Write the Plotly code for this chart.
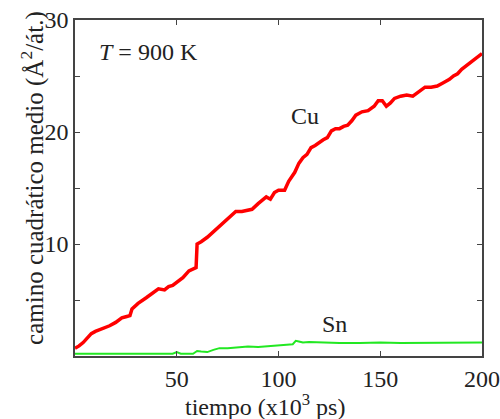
import plotly.graph_objects as go

cu_t = [0, 2, 4, 6, 8, 10, 13, 17, 20, 23, 25, 27, 28, 31, 35, 38, 41, 44, 46, 48, 50, 53, 56, 58, 59.5,
        60, 62, 65, 68, 71, 74, 77, 79, 82, 85, 87, 90, 92, 94, 96, 98, 100, 103, 105, 108, 110, 112,
        114, 116, 118, 120, 122, 124, 126, 128, 130, 132, 134, 136, 138, 141, 144, 147, 149, 151, 153,
        155, 157, 160, 163, 166, 168, 170, 172, 175, 178, 181, 184, 186, 188, 190, 192, 195, 197, 200]
cu_msd = [0.7, 0.9, 1.2, 1.6, 2.0, 2.2, 2.4, 2.7, 3.0, 3.4, 3.5, 3.6, 4.2, 4.7, 5.2, 5.6, 6.0, 5.9, 6.2,
          6.3, 6.6, 7.0, 7.6, 7.8, 7.9, 10.0, 10.2, 10.6, 11.1, 11.6, 12.0, 12.6, 12.9, 12.9, 13.0, 13.1,
          13.6, 13.9, 14.2, 14.0, 14.6, 14.8, 14.8, 15.6, 16.4, 17.2, 17.7, 18.0, 18.6, 18.8, 19.1, 19.3,
          19.5, 20.1, 20.3, 20.3, 20.5, 20.6, 21.0, 21.5, 21.8, 21.9, 22.3, 22.8, 22.8, 22.3, 22.6, 23.0,
          23.2, 23.3, 23.2, 23.5, 23.8, 24.0, 24.0, 24.1, 24.4, 24.7, 25.0, 25.2, 25.6, 25.9, 26.3, 26.6,
          27.0]

sn_t = [0, 10, 20, 30, 40, 48, 50, 52, 58, 60, 62, 65, 68, 71, 75, 80, 85, 90, 95, 100, 104, 107, 108.5,
        110, 112, 115, 120, 130, 140, 150, 160, 170, 180, 190, 200]
sn_msd = [0.2, 0.2, 0.25, 0.2, 0.25, 0.2, 0.35, 0.2, 0.2, 0.45, 0.4, 0.35, 0.55, 0.7, 0.7, 0.8, 0.85, 0.8,
          0.85, 0.9, 1.0, 1.05, 1.35, 1.3, 1.2, 1.25, 1.2, 1.15, 1.15, 1.2, 1.15, 1.15, 1.15, 1.15, 1.2]

y_ticks = [5, 10, 15, 20, 25, 30]
y_ticktext = ["", "10", "", "20", "", "30"]
x_ticks = [50, 100, 150, 200]
x_ticktext = ["50", "100", "150", "200"]

FONT = "Liberation Serif"
TXT = "#222222"
FS = 24

fig = go.Figure()
fig.add_trace(go.Scatter(x=cu_t, y=cu_msd, mode="lines", line=dict(color="#ff0000", width=3.5),
                         showlegend=False, name="Cu"))
fig.add_trace(go.Scatter(x=sn_t, y=sn_msd, mode="lines", line=dict(color="#22e822", width=2),
                         showlegend=False, name="Sn"))

axis_common = dict(showgrid=False, zeroline=False, showline=True, linecolor="#444444", linewidth=1.5,
                   mirror="ticks", ticks="inside", ticklen=5, tickcolor="#444444", tickwidth=1,
                   automargin=False, tickfont=dict(family=FONT, size=FS, color=TXT))

fig.update_xaxes(range=[0, 200], tickvals=x_ticks, ticktext=x_ticktext, **axis_common)
fig.update_yaxes(range=[0, 30], tickvals=y_ticks, ticktext=y_ticktext, **axis_common)

# axis titles
fig.add_annotation(x=0.467, y=0, xref="paper", yref="paper", yshift=-49,
                   text="tiempo (x10<sup>3</sup> ps)", showarrow=False, xanchor="center", yanchor="middle",
                   font=dict(family=FONT, size=FS, color=TXT))
fig.add_annotation(x=0, y=0.53, xref="paper", yref="paper", xshift=-42, textangle=-90,
                   text="camino cuadrático medio (Å<sup>2</sup>/át.)", showarrow=False,
                   xanchor="center", yanchor="middle", font=dict(family=FONT, size=25, color=TXT))

fig.add_annotation(x=0.054, y=0.905, xref="paper", yref="paper", text="<i>T</i> = 900 K", showarrow=False,
                   xanchor="left", yanchor="middle", font=dict(family=FONT, size=FS, color=TXT))
fig.add_annotation(x=113, y=21.4, text="Cu", showarrow=False, xanchor="center", yanchor="middle",
                   font=dict(family=FONT, size=FS, color=TXT))
fig.add_annotation(x=127.5, y=2.9, text="Sn", showarrow=False, xanchor="center", yanchor="middle",
                   font=dict(family=FONT, size=FS, color=TXT))

fig.update_layout(width=500, height=419, margin=dict(l=75, r=18, t=20, b=63, autoexpand=False),
                  plot_bgcolor="white", paper_bgcolor="white")

fig.write_html("out.html", config={"displayModeBar": False},
               post_script="document.body.style.margin='0';")
